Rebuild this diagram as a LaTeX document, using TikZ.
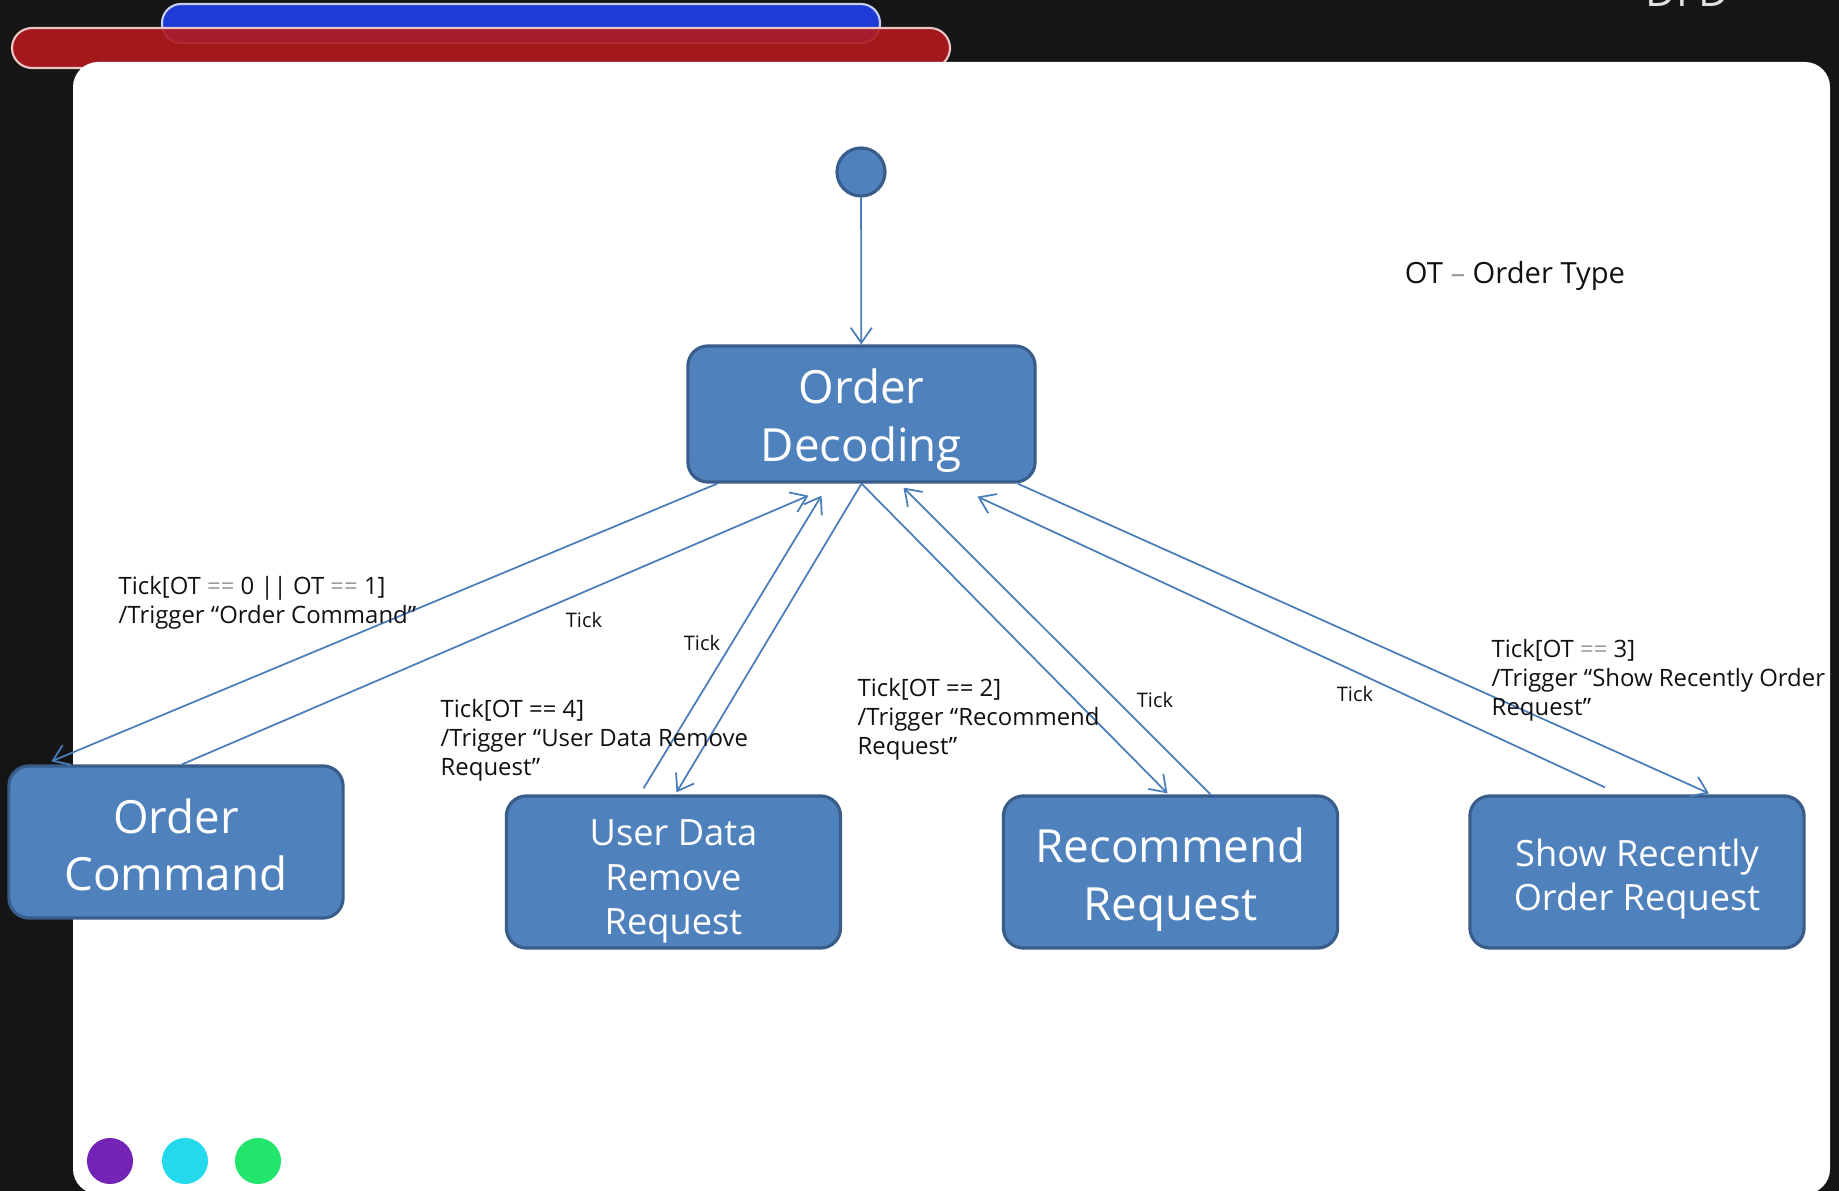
\documentclass[tikz,border=0pt]{standalone}
\usepackage{fontspec}
\setmainfont{Open Sans}
\usetikzlibrary{arrows.meta,calc}

\definecolor{slidebg}{HTML}{151515}
\definecolor{boxfill}{HTML}{4F81BD}
\definecolor{boxline}{HTML}{385D8A}
\definecolor{wire}{HTML}{4A7EBB}
\definecolor{barred}{HTML}{B3191C}
\definecolor{barblue}{HTML}{1F3BD5}
\definecolor{dotpurple}{HTML}{7324B6}
\definecolor{dotcyan}{HTML}{24D9EC}
\definecolor{dotgreen}{HTML}{22E56B}
\definecolor{labeltext}{HTML}{111111}

\newcommand{\grayeq}{{\color{black!40}==}}
\newcommand{\dropline}[1]{\rule{0pt}{#1}}

\begin{document}
\begin{tikzpicture}[x=0.01cm,y=-0.01cm]
	\tikzset{statebox/.style = {shape=rectangle, rounded corners=0.2cm, draw=boxline, line width=0.9pt, fill=boxfill, text=white, align=center, minimum width=3.34cm, minimum height=1.52cm, inner sep=0pt}}
	\tikzset{bigtext/.style = {font=\fontsize{13}{16.3}\selectfont}}
	\tikzset{smalltext/.style = {font=\fontsize{10.3}{12.7}\selectfont}}
	\tikzset{trans/.style = {draw=wire, line width=0.5pt, -{Straight Barb[length=4.3pt,width=6pt]}}}
	\tikzset{guard/.style = {anchor=west, align=left, text=labeltext, inner sep=0pt, font=\fontsize{6.8}{8.3}\selectfont}}
	\tikzset{tick/.style = {text=labeltext, inner sep=0pt, font=\fontsize{5.7}{6.8}\selectfont}}
	\tikzset{dot/.style = {shape=circle, inner sep=0pt, minimum size=0.46cm}}

	\useasboundingbox (0,0) rectangle (1839,1191);

	% slide background
	\fill[slidebg] (0,0) rectangle (1839,1191);
	\fill[barblue, draw=white!75!barblue, line width=0.6pt, rounded corners=0.19cm] (162,4) rectangle (880,43);
	\fill[barred, fill opacity=0.9, draw=white!75!barred, line width=0.6pt, rounded corners=0.2cm] (12,28) rectangle (950,68);
	\node[text=white!88!black, anchor=base west, inner sep=0pt, font=\fontsize{12}{12}\selectfont] (title) at (1645,7) {DFD};
	\fill[white, rounded corners=0.25cm] (73,62) rectangle (1830,1194);

	\node[dot, fill=dotpurple] (d1) at (110,1161) {};
	\node[dot, fill=dotcyan] (d2) at (185,1161) {};
	\node[dot, fill=dotgreen] (d3) at (258,1161) {};

	% states
	\node[shape=circle, draw=boxline, line width=0.9pt, fill=boxfill, minimum size=0.48cm, inner sep=0pt] (init) at (861,172) {};
	\node[statebox, bigtext, minimum width=3.47cm, minimum height=1.36cm] (dec) at (861.5,414) {\dropline{13.7pt}Order\\Decoding};
	\node[statebox, bigtext] (oc) at (176,842) {\dropline{11.6pt}Order\\Command};
	\node[statebox, smalltext] (udr) at (673.5,872) {\dropline{12.8pt}User Data\\Remove\\Request};
	\node[statebox, bigtext] (rr) at (1170.5,872) {\dropline{14.3pt}Recommend\\Request};
	\node[statebox, smalltext] (sr) at (1637,872) {\dropline{11.8pt}Show Recently\\Order Request};

	\node[text=labeltext, font=\fontsize{8.3}{10}\selectfont] (note) at (1515,276) {OT {\color{black!40}–} Order Type};

	% transitions
	\draw[trans] (init) -- (dec);
	\draw[trans] ($(dec.south west)+(31,0)$) -- ($(oc.north west)+(44,-3)$);
	\draw[trans] ($(oc.north)+(6,0)$) -- ($(dec.south)+(-53,12)$);
	\draw[trans] ($(udr.north)+(-30,-6)$) -- ($(dec.south)+(-40,12)$);
	\draw[trans] (dec.south) -- ($(udr.north)+(3,-2)$);
	\draw[trans] (dec.south) -- ($(rr.north)+(-3,-1)$);
	\draw[trans] ($(rr.north)+(40,0)$) -- ($(dec.south)+(42,4)$);
	\draw[trans] ($(sr.north)+(-32,-7)$) -- ($(dec.south)+(116,13)$);
	\draw[trans] ($(dec.south east)+(-19,0)$) -- ($(sr.north)+(72,-1)$);

	% labels
	\node[guard] (g1) at (118,603) {Tick[OT \grayeq{} 0 || OT \grayeq{} 1]\\/Trigger “Order Command”};
	\node[guard] (g4) at (440,740) {Tick[OT == 4]\\/Trigger “User Data Remove\\Request”};
	\node[guard] (g2) at (857,719) {Tick[OT == 2]\\/Trigger “Recommend\\Request”};
	\node[guard] (g3) at (1491,680) {Tick[OT \grayeq{} 3]\\/Trigger “Show Recently Order\\Request”};

	\node[tick] (t1) at (584,620) {Tick};
	\node[tick] (t2) at (702,643) {Tick};
	\node[tick] (t3) at (1155,700) {Tick};
	\node[tick] (t4) at (1355,694) {Tick};

\end{tikzpicture}
\end{document}
